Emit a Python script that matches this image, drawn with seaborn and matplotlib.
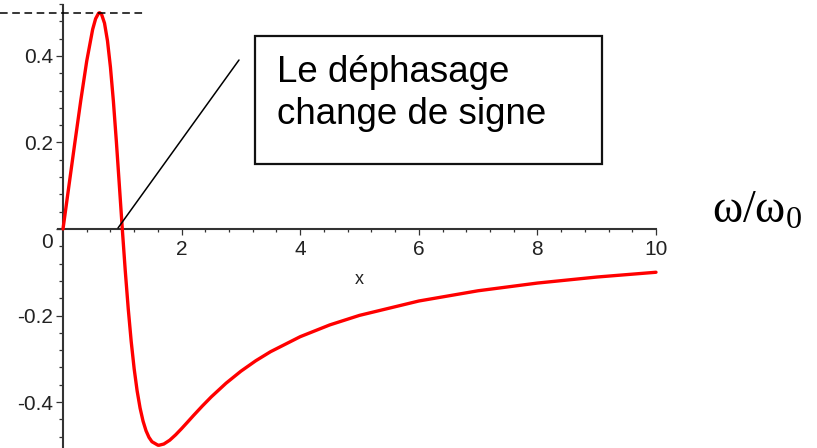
import matplotlib
matplotlib.use("Agg")
import matplotlib.pyplot as plt
import matplotlib.transforms as mtransforms
from matplotlib.patches import Rectangle
import seaborn as sns
import pandas as pd
import numpy as np

# Reduced pulsation and the corresponding phase response
omega_ratio = [0.0, 0.1, 0.2, 0.3, 0.4, 0.5, 0.55, 0.6, 0.618, 0.65, 0.7, 0.75,
               0.8, 0.85, 0.9, 0.95, 1.0, 1.05, 1.1, 1.15, 1.2, 1.25, 1.3, 1.35,
               1.4, 1.45, 1.5, 1.6, 1.618, 1.7, 1.8, 1.9, 2.0, 2.1, 2.2, 2.35,
               2.5, 2.75, 3.0, 3.25, 3.5, 4.0, 4.5, 5.0, 6.0, 7.0, 8.0, 9.0, 10.0]
response = [0.0, 0.1000, 0.1997, 0.2974, 0.3882, 0.4615, 0.4862, 0.4990, 0.5000,
            0.4965, 0.4759, 0.4352, 0.3742, 0.2950, 0.2021, 0.1016, 0.0, -0.0967,
            -0.1842, -0.2600, -0.3232, -0.3742, -0.4141, -0.4443, -0.4664, -0.4818,
            -0.4918, -0.4998, -0.5000, -0.4972, -0.4883, -0.4758, -0.4615, -0.4465,
            -0.4313, -0.4092, -0.3882, -0.3565, -0.3288, -0.3047, -0.2837, -0.2490,
            -0.2217, -0.1997, -0.1665, -0.1428, -0.1250, -0.1111, -0.1000]

y_ticks = [-0.4, -0.2, 0.0, 0.2, 0.4]
y_tick_labels = ["-0.4", "-0.2", "0", "0.2", "0.4"]
x_ticks = [2, 4, 6, 8, 10]
x_tick_labels = ["2", "4", "6", "8", "10"]

sns.set_style("white")
plt.rcParams["font.family"] = ["Liberation Sans", "DejaVu Sans"]
plt.rcParams["mathtext.fontset"] = "custom"
plt.rcParams["mathtext.rm"] = "Liberation Serif"
plt.rcParams["mathtext.it"] = "Liberation Serif"

W, H = 817, 448
fig = plt.figure(figsize=(W / 100, H / 100), dpi=100)
ax = fig.add_axes([0, 0, 1, 1])

# pixel mapping of the plotting frame
x0_px, x_scale = 63.0, 59.3
y0_px, y_scale = 229.0, 432.5
ax.set_xlim(-x0_px / x_scale, (W - x0_px) / x_scale)
ax.set_ylim(-(H - y0_px) / y_scale, y0_px / y_scale)

df = pd.DataFrame({"x": omega_ratio, "y": response})
sns.lineplot(data=df, x="x", y="y", ax=ax, color="#ff0000", linewidth=2.4,
             sort=False, estimator=None, zorder=3)

# axes crossing at the origin
axis_col = "#333333"
for side in ("top", "right"):
    ax.spines[side].set_visible(False)
ax.spines["left"].set_position(("data", 0))
ax.spines["bottom"].set_position(("data", 0))
ax.spines["left"].set_bounds(ax.get_ylim()[0], 0.518)
ax.spines["bottom"].set_bounds(-0.08, 10)
for side in ("left", "bottom"):
    ax.spines[side].set_color(axis_col)
    ax.spines[side].set_linewidth(1.5)
    ax.spines[side].set_zorder(2)

ax.set_xticks(x_ticks)
ax.set_xticklabels(x_tick_labels)
ax.set_yticks(y_ticks)
ax.set_yticklabels(y_tick_labels)
ax.set_xticks(np.arange(0.4, 10, 0.4), minor=True)
ax.set_yticks(np.arange(-0.48, 0.53, 0.04), minor=True)

ax.tick_params(which="both", bottom=True, left=True, top=False, right=False)
ax.tick_params(axis="x", which="major", direction="out", length=4, width=0.9,
               color=axis_col, labelsize=15, labelcolor="#222222", pad=4)
ax.tick_params(axis="x", which="minor", direction="out", length=2.2, width=0.9,
               color=axis_col)
ax.tick_params(axis="y", which="major", direction="out", length=5, width=0.9,
               color=axis_col, labelsize=15, labelcolor="#222222", pad=2)
ax.tick_params(axis="y", which="minor", direction="out", length=3, width=0.9,
               color=axis_col)

# origin label sits a little below the horizontal axis
for lab in ax.get_yticklabels():
    if lab.get_text() == "0":
        lab.set_transform(lab.get_transform() +
                          mtransforms.ScaledTranslation(0, -11 / 100, fig.dpi_scale_trans))

ax.set_xlabel("")
ax.set_ylabel("")
ax.text(5, -(280 - y0_px) / y_scale, "x", ha="center", va="center",
        fontsize=13, color="#222222")

# dashed marker at the maximum
peak = max(response)
ax.plot([ax.get_xlim()[0], (143 - x0_px) / x_scale], [peak, peak],
        color="black", linewidth=1.1, dashes=(5, 3), zorder=4)

# pointer from the annotation to the sign change
ax.plot([(239 - x0_px) / x_scale, (118 - x0_px) / x_scale],
        [(y0_px - 60) / y_scale, (y0_px - 228) / y_scale],
        color="black", linewidth=1.1, zorder=4)

# annotation box
fig.patches.append(Rectangle((255 / W, 1 - 164 / H), (602 - 255) / W, (164 - 36) / H,
                             transform=fig.transFigure, fill=False,
                             edgecolor="#111111", linewidth=1.6))
fig.text(277 / W, 1 - 55 / H, "Le déphasage\nchange de signe", ha="left", va="top",
         fontsize=26.5, linespacing=1.25, color="black")

fig.text(712 / W, 1 - 223 / H, r"$\mathrm{ω/ω_0}$", ha="left", va="baseline",
         fontsize=33, color="black")

fig.savefig("out.png", dpi=100, facecolor="white")
